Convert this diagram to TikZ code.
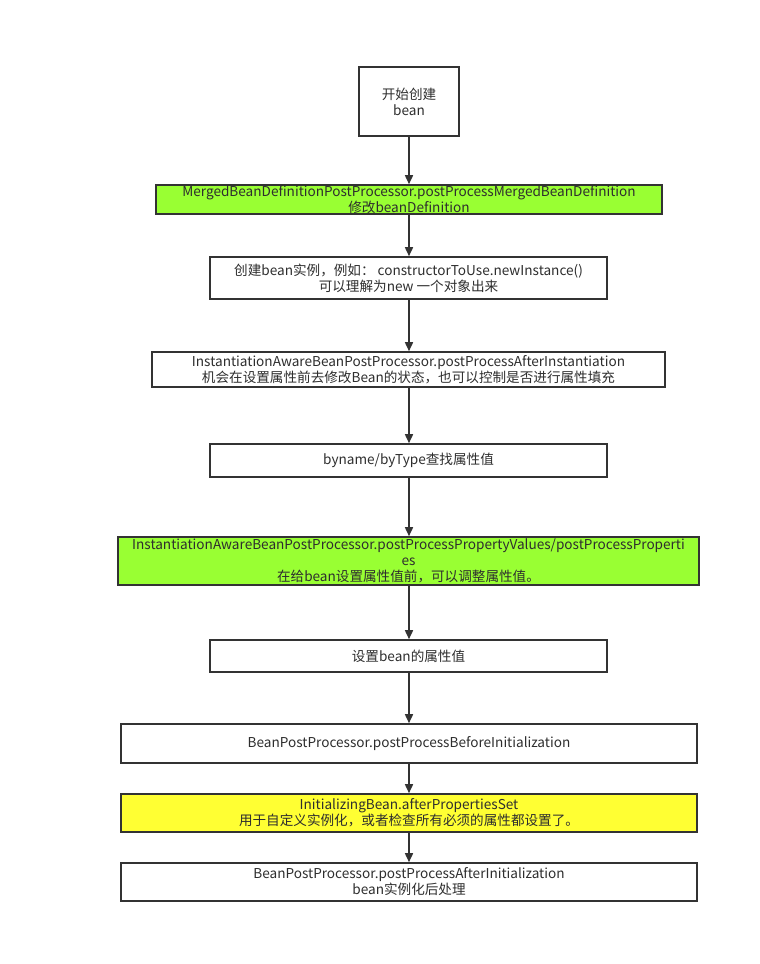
\documentclass[tikz,border=0pt]{standalone}
\usepackage{fontspec}
\setmainfont{Noto Sans CJK SC}
\usetikzlibrary{arrows.meta}
\definecolor{lineC}{HTML}{333333}
\definecolor{greenC}{HTML}{99FF33}
\definecolor{yellowC}{HTML}{FFFF33}
\begin{document}
\begin{tikzpicture}[x=1pt,y=-1pt,
  box/.style={draw=lineC,line width=1.6pt,inner sep=0pt,align=center,font=\fontsize{13.6}{16}\selectfont,text=lineC!90!black},
  flow/.style={draw=lineC,line width=1.6pt,-{Triangle[length=9pt,width=8pt]}}]
\useasboundingbox (0,0) rectangle (760,964);
\fill[white] (0,0) rectangle (760,964);
\node[box,minimum width=100pt,minimum height=69pt] (n1) at (409,101.5) {开始创建\\bean};
\node[box,fill=greenC,minimum width=506pt,minimum height=29pt] (n2) at (409,199.5) {MergedBeanDefinitionPostProcessor.postProcessMergedBeanDefinition\\修改beanDefinition};
\node[box,minimum width=397pt,minimum height=42pt] (n3) at (408.5,278) {创建bean实例，例如： constructorToUse.newInstance()\\可以理解为new 一个对象出来};
\node[box,minimum width=513pt,minimum height=35pt] (n4) at (408.5,369.5) {InstantiationAwareBeanPostProcessor.postProcessAfterInstantiation\\机会在设置属性前去修改Bean的状态，也可以控制是否进行属性填充};
\node[box,minimum width=397pt,minimum height=33pt] (n5) at (408.5,460.5) {byname/byType查找属性值};
\node[box,fill=greenC,minimum width=581pt,minimum height=48pt] (n6) at (408.5,561) {InstantiationAwareBeanPostProcessor.postProcessPropertyValues/postProcessProperti\\es\\在给bean设置属性值前，可以调整属性值。};
\node[box,minimum width=397pt,minimum height=32pt] (n7) at (408.5,656) {设置bean的属性值};
\node[box,minimum width=576pt,minimum height=39pt] (n8) at (409,743.5) {BeanPostProcessor.postProcessBeforeInitialization};
\node[box,fill=yellowC,minimum width=576pt,minimum height=38pt] (n9) at (409,813) {InitializingBean.afterPropertiesSet\\用于自定义实例化，或者检查所有必须的属性都设置了。};
\node[box,minimum width=576pt,minimum height=38pt] (n10) at (409,882) {BeanPostProcessor.postProcessAfterInitialization\\bean实例化后处理};
\foreach \a/\b in {n1/n2,n2/n3,n3/n4,n4/n5,n5/n6,n6/n7,n7/n8,n8/n9,n9/n10}
  \draw[flow] (\a.south -| 409,0) -- (\b.north -| 409,0);
\end{tikzpicture}
\end{document}
